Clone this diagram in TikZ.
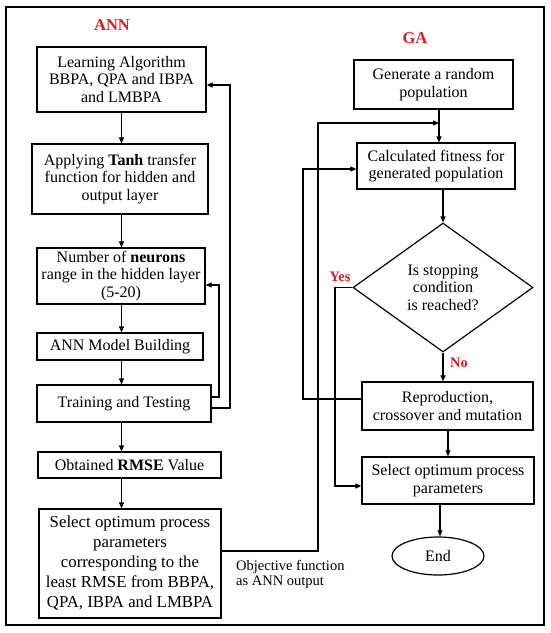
\documentclass[tikz,border=0pt]{standalone}
\usepackage{fontspec}
\setmainfont{Liberation Serif}
\usetikzlibrary{shapes.geometric,arrows.meta,calc}
\definecolor{lblred}{RGB}{220,30,30}
\begin{document}
\begin{tikzpicture}[x=1pt,y=-1pt,
  box/.style={draw, line width=1.2pt, align=center, inner sep=2pt, font=\fontsize{16}{17.5}\selectfont},
  arr/.style={line width=1.1pt, -{Triangle[length=6pt,width=5pt]}},
  lbl/.style={text=lblred, font=\bfseries\fontsize{16.5}{18}\selectfont, inner sep=0pt},
  slbl/.style={text=lblred, font=\bfseries\fontsize{14.5}{16}\selectfont, inner sep=0pt}]
\useasboundingbox (0,0) rectangle (550,633);
\draw[line width=1.8pt] (6,7) rectangle (544,625);

% ANN column
\node[lbl] (ann) at (112,25) {ANN};
\node[box, minimum width=169pt, minimum height=65pt] (b1) at (121.5,79.5) {Learning Algorithm\\BBPA, QPA and IBPA\\and LMBPA};
\node[box, minimum width=176pt, minimum height=70pt] (b2) at (120,179) {Applying \textbf{Tanh} transfer\\function for hidden and\\output layer};
\node[box, minimum width=168pt, minimum height=56pt] (b3) at (121,276) {Number of \textbf{neurons}\\range in the hidden layer\\(5-20)};
\node[box, minimum width=166pt, minimum height=27pt] (b4) at (120,346.5) {ANN Model Building};
\node[box, minimum width=174pt, minimum height=37pt] (b5) at (124,403.5) {Training and Testing};
\node[box, minimum width=183pt, minimum height=26pt] (b6) at (129.5,465) {Obtained \textbf{RMSE} Value};
\node[box, minimum width=182pt, minimum height=109pt, font=\fontsize{16.8}{20}\selectfont] (b7) at (130,563.5) {Select optimum process\\parameters\\corresponding to the\\least RMSE from BBPA,\\QPA, IBPA and LMBPA};

\coordinate (sp) at (121.5,0);
\draw[arr] (b1.south -| sp) -- (b2.north -| sp);
\draw[arr] (b2.south -| sp) -- (b3.north -| sp);
\draw[arr] (b3.south -| sp) -- (b4.north -| sp);
\draw[arr] (b4.south -| sp) -- (b5.north -| sp);
\draw[arr] (b5.south -| sp) -- (b6.north -| sp);
\draw[arr] (b6.south -| sp) -- (b7.north -| sp);

\coordinate (yIn) at (0,397);
\coordinate (yOut) at (0,408);
\coordinate (yN) at (0,285);
\coordinate (yL) at (0,85);
\draw[arr] (b5.east |- yIn) -| (219,285) -- (b3.east |- yN);
\draw[arr] (b5.east |- yOut) -| (230,85) -- (b1.east |- yL);

% GA column
\node[lbl] (ga) at (415,38) {GA};
\node[box, minimum width=159pt, minimum height=49pt] (g1) at (433.5,84.5) {Generate a random\\population};
\node[box, minimum width=158pt, minimum height=46pt] (g2) at (436,166) {Calculated fitness for\\generated population};
\node[draw, diamond, line width=1.2pt, align=center, inner sep=0pt, minimum width=180pt, minimum height=129pt, font=\fontsize{16}{17.5}\selectfont] (d) at (443,287.5) {Is stopping\\condition\\is reached?};
\node[box, minimum width=171pt, minimum height=48pt] (g3) at (447.5,406) {Reproduction,\\crossover and mutation};
\node[box, minimum width=172pt, minimum height=47pt] (g4) at (448,480.5) {Select optimum process\\parameters};
\node[draw, ellipse, line width=1.2pt, minimum width=92pt, minimum height=38pt, font=\fontsize{16}{17.5}\selectfont] (end) at (438,556) {End};

\node[slbl] (yes) at (340,277) {Yes};
\node[slbl] (no) at (459,363) {No};

\coordinate (gx1) at (439,0);
\coordinate (gx2) at (443,0);
\coordinate (gx3) at (448,0);
\coordinate (gx4) at (440,0);
\draw[arr] (g1.south -| gx1) -- (g2.north -| gx1);
\draw[arr] (g2.south -| gx2) -- (d.north);
\draw[arr] (d.south) -- (g3.north -| gx2);
\draw[arr] (g3.south -| gx3) -- (g4.north -| gx3);
\draw[arr] (g4.south -| gx4) -- (end.north -| gx4);

\coordinate (yObj) at (0,551);
\coordinate (yTop) at (0,123);
\coordinate (yR) at (0,399);
\coordinate (yF) at (0,169);
\coordinate (yS) at (0,486);
\draw[arr] (b7.east |- yObj) -| (318,123) -- (gx1 |- yTop);
\draw[arr] (g3.west |- yR) -| (303,169) -- (g2.west |- yF);
\draw[arr] (d.west) -| (335,486) -- (g4.west |- yS);

\node[anchor=west, align=left, inner sep=0pt, font=\fontsize{14.5}{15}\selectfont] (obj) at (236,574.5) {Objective function\\as ANN output};
\end{tikzpicture}
\end{document}
